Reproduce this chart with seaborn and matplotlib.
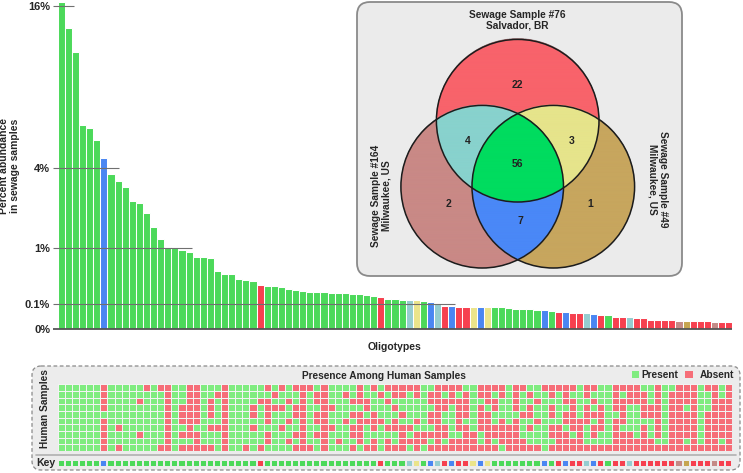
import numpy as np
import pandas as pd
import matplotlib
matplotlib.use("Agg")
import matplotlib.pyplot as plt
import seaborn as sns
from collections import Counter
from matplotlib.colors import ListedColormap, to_rgba
from matplotlib.patches import FancyBboxPatch, Circle, Rectangle

sns.set_style("white")
plt.rcParams["font.family"] = ["Liberation Sans", "DejaVu Sans"]
plt.rcParams["font.weight"] = "bold"

# percent abundance of each oligotype in the sewage samples (sorted)
abundance = [16.4, 13.9, 11.8, 6.4, 6.2, 5.5, 4.5, 3.67, 3.36, 3.11,
             2.52, 2.45, 2.07, 1.61, 1.26, 1.04, 1.0, 0.96, 0.92, 0.80,
             0.79, 0.77, 0.52, 0.47, 0.47, 0.39, 0.37, 0.35, 0.30, 0.29,
             0.29, 0.28, 0.245, 0.237, 0.228, 0.217, 0.217, 0.21, 0.205, 0.205,
             0.199, 0.191, 0.188, 0.177, 0.173, 0.16, 0.144, 0.138, 0.132, 0.132,
             0.132, 0.125, 0.112, 0.10, 0.085, 0.085, 0.076, 0.076, 0.074, 0.074,
             0.074, 0.074, 0.074, 0.068, 0.063, 0.063, 0.061, 0.059, 0.055, 0.05,
             0.046, 0.046, 0.041, 0.041, 0.041, 0.036, 0.03, 0.03, 0.022, 0.022,
             0.022, 0.0196, 0.0196, 0.013, 0.013, 0.013, 0.013, 0.0106, 0.0106, 0.0106,
             0.0106, 0.0106, 0.0075, 0.0075, 0.0075]

# which sewage samples share each oligotype
# A = all three, B = #164+#49, R = #76 only, C = #76+#164, Y = #76+#49, P = #164 only, G = #49 only
groups = ("AAAAAABAAA" "AAAAAAAAAA" "AAAAAAAARA" "AAAAAAAAAA" "AAAAARAAAC"
          "YABCRBRRYB" "YAAAAAAABA" "RBRRCBRARR" "CRRRRRRPGR" "RRPRR")

group_colors = {"A": "#4cd95a", "B": "#4a86f2", "R": "#f6404f", "C": "#95cdd0",
                "Y": "#ebe48a", "P": "#c48a86", "G": "#c6a550"}

# presence (1) / absence (0) in 10 human samples, one string per oligotype
presence = [
    "1111111111", "1111111111", "1111111111", "1111111111", "1111111111",
    "1111111111", "0000100000", "1111111111", "1111110110", "1111111111",
    "1111111111", "1101111011", "0111111111", "1111111111", "0111111110",
    "0000000000", "1111111111", "1110001010", "0000000010", "0000001000",
    "1111111110", "1100010110", "1011110111", "0000000000", "1111111111",
    "1111111111", "1111111110", "1110010111", "1101111110", "0100001001",
    "1010111111", "0110110111", "1101101101", "0110011010", "0000000000",
    "0111111110", "1001001011", "0000000000", "1110110111", "1111111101",
    "1011101111", "1101010010", "0001000001", "1100101110", "0111000100",
    "1011101111", "0101110100", "0010100110", "0011010000", "0111110101",
    "0011101000", "1111111001", "1001001010", "0000000000", "0100110010",
    "0001111100", "0100000100", "1000010000", "1111111000", "0010000110",
    "0001000000", "0100110010", "0011100001", "1111110000", "0000100000",
    "0111011100", "1010010110", "1101101110", "0111111111", "0010010010",
    "0111110000", "0001001000", "0100000100", "1111100000", "0010001110",
    "0101010010", "1110000110", "1111111110", "0000100000", "0100001000",
    "0001111000", "0001111100", "1000010000", "1110011100", "0000000010",
    "1111111110", "1000000000", "0000000000", "0001000010", "0000000000",
    "1111111110", "0111000000", "0000000000", "1100000010", "0000000000",
]

yticks = [0, 0.1, 1, 4, 16]
ytick_labels = ["0%", "0.1%", "1%", "4%", "16%"]
guide_ends = [94.5, 55.4, 18.4, 8.2, 1.8]

# venn regions: bit 1 = #76, bit 2 = #164, bit 4 = #49
region_of_group = {"R": 1, "P": 2, "C": 3, "G": 4, "Y": 5, "B": 6, "A": 7}
region_colors = {1: "#f8636b", 2: "#c98986", 3: "#88d2cd", 4: "#c7a65e",
                 5: "#e6e48b", 6: "#4a88f7", 7: "#00dc5f"}

df = pd.DataFrame({"oligotype": [f"O{i:02d}" for i in range(len(abundance))],
                   "abundance": abundance, "group": list(groups)})

W, H = 743, 473
fig = plt.figure(figsize=(W / 100, H / 100), dpi=100)

# background layer in pixel coordinates
bg = fig.add_axes([0, 0, 1, 1], zorder=-1)
bg.set_xlim(0, W)
bg.set_ylim(H, 0)
bg.axis("off")


def fx(px):
    return px / W


def fy(py):
    return 1 - py / H


x0, x1 = 57.7, 732.2

# ---- bar chart ----
ax = fig.add_axes([fx(x0), fy(329.3), fx(x1) - fx(x0), (329.3 - 2) / H])
ax.patch.set_alpha(0)
sns.barplot(data=df, x="oligotype", y="abundance", hue="group", palette=group_colors,
            dodge=False, width=1.0, saturation=1, errorbar=None, legend=False,
            edgecolor="white", linewidth=0.75, ax=ax)
ax.set_yscale("function", functions=(lambda v: np.sqrt(np.clip(v, 0, None)), np.square))
ax.set_ylim(0, 16.4)
ax.set_xlim(-0.5, len(abundance) - 0.5)
ax.hlines(yticks, -1.15, guide_ends, colors=["#555555"] + ["#707070"] * 4,
          lw=[1.3, 0.8, 0.8, 0.8, 0.8], zorder=4, clip_on=False)
ax.set_yticks(yticks)
ax.set_yticklabels(ytick_labels, fontsize=8, fontweight="bold")
ax.set_xticks([])
ax.tick_params(axis="y", length=0, pad=5.5)
for s in ax.spines.values():
    s.set_visible(False)
ax.set_xlabel("Oligotypes", fontsize=7.5, fontweight="bold", labelpad=9)
ax.set_ylabel("Percent abundance\nin sewage samples", fontsize=7.5, fontweight="bold",
              linespacing=1.15)
ax.yaxis.set_label_coords((20 - x0) / (x1 - x0), 0.5)

# ---- venn inset ----
bg.add_patch(FancyBboxPatch((357, 2), 325, 274, boxstyle="round,pad=0,rounding_size=13",
                            fc="#ebebeb", ec="#8a8a8a", lw=1.3, zorder=1))
venn_r = 81.3
venn_centres = [(517.7, 120.7), (482.2, 186.7), (553.3, 186.7)]
gx = np.arange(390, 650, 0.25) + 0.125
gy = np.arange(35, 275, 0.25) + 0.125
X, Y = np.meshgrid(gx, gy)
code = np.zeros(X.shape, dtype=int)
for bit, (cx, cy) in zip([1, 2, 4], venn_centres):
    code += bit * (((X - cx) ** 2 + (Y - cy) ** 2) <= venn_r ** 2)
rgba = np.zeros(code.shape + (4,))
for k, col in region_colors.items():
    rgba[code == k] = to_rgba(col)
bg.imshow(rgba, extent=(390, 650, 275, 35), origin="upper", aspect="auto", zorder=2)
for cx, cy in venn_centres:
    bg.add_patch(Circle((cx, cy), venn_r, fill=False, ec="#1c1c1c", lw=1.1, zorder=3))

counts = Counter(region_of_group[g] for g in groups)
label_pos = {1: (517.7, 85), 2: (449, 204), 3: (468, 141), 4: (590, 204),
             5: (572, 141), 6: (520, 221), 7: (517.7, 163.5)}
for k, (px, py) in label_pos.items():
    bg.text(px, py, str(counts[k]), ha="center", va="center", fontsize=7.5,
            fontweight="bold", color="#222222", zorder=4)

bg.text(517.7, 20.5, "Sewage Sample #76\nSalvador, BR", ha="center", va="center",
        fontsize=7.3, fontweight="bold", linespacing=1.1, zorder=4)
bg.text(381, 196, "Sewage Sample #164\nMilwaukee, US", ha="center", va="center",
        rotation=90, fontsize=7.3, fontweight="bold", linespacing=1.1, zorder=4)
bg.text(658, 179, "Sewage Sample #49\nMilwaukee, US", ha="center", va="center",
        rotation=270, fontsize=7.3, fontweight="bold", linespacing=1.1, zorder=4)

# ---- presence heatmap ----
bg.add_patch(FancyBboxPatch((32, 366), 708, 104, boxstyle="round,pad=0,rounding_size=9",
                            fc="#ececec", ec="#8a8a8a", lw=0.9, ls=(0, (3, 2)), zorder=1))
bg.plot([36, 736], [454.5, 454.5], color="#b0b0b0", lw=1.2, zorder=2)
bg.text(383.5, 376, "Presence Among Human Samples", ha="center", va="center",
        fontsize=7.3, fontweight="bold", zorder=3)
bg.add_patch(Rectangle((631.7, 370.8), 7.6, 7.6, fc="#80ec80", ec="none", zorder=3))
bg.text(641.7, 374.6, "Present", ha="left", va="center", fontsize=7.3, fontweight="bold", zorder=3)
bg.add_patch(Rectangle((685, 370.8), 7.6, 7.6, fc="#f66e78", ec="none", zorder=3))
bg.text(699.3, 374.6, "Absent", ha="left", va="center", fontsize=7.3, fontweight="bold", zorder=3)
bg.text(45, 409, "Human Samples", ha="center", va="center", rotation=90,
        fontsize=7.3, fontweight="bold", zorder=3)
bg.text(46, 463, "Key", ha="center", va="center", fontsize=7.6, fontweight="bold", zorder=3)

mat = np.array([[int(c) for c in col] for col in presence]).T
hm = fig.add_axes([fx(x0), fy(451), fx(x1) - fx(x0), (451 - 384.3) / H])
sns.heatmap(mat, cmap=ListedColormap(["#f66e78", "#80ec80"]), vmin=0, vmax=1, cbar=False,
            linewidths=0.7, linecolor="#f3f3f3", xticklabels=False, yticklabels=False, ax=hm)

order = list(group_colors)
key_mat = np.array([[order.index(g) for g in groups]])
key = fig.add_axes([fx(x0), fy(466.5), fx(x1) - fx(x0), (466.5 - 459.5) / H])
sns.heatmap(key_mat, cmap=ListedColormap([group_colors[g] for g in order]),
            vmin=-0.5, vmax=len(order) - 0.5, cbar=False, linewidths=1.1,
            linecolor="#ececec", xticklabels=False, yticklabels=False, ax=key)

fig.savefig("out.png", dpi=100)
